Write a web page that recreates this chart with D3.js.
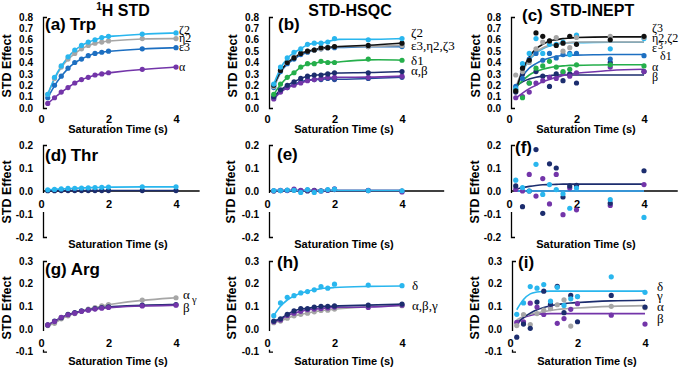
<!DOCTYPE html>
<html><head><meta charset="utf-8">
<script src="https://cdn.jsdelivr.net/npm/d3@7"></script>
<style>body{margin:0;background:#fff}</style>
</head><body><svg id="c" width="685" height="367"></svg>
<script>
// ---------- data ----------
const times = [0.2,0.4,0.6,0.8,1.0,1.2,1.4,1.6,1.8,2.0,3,4];
const xTicks = [0,2,4];
const yTicksRow1 = [0,0.1,0.2,0.3,0.4,0.5,0.6,0.7,0.8];
const yTicksRow2 = [-0.2,-0.1,0,0.1,0.2];
const yTicksRow3 = [-0.1,0,0.1,0.2,0.3];
const columnTitles = ["STD", "STD-HSQC", "STD-INEPT"];

// (a) Trp 1H STD
const trpSTD_alpha = [0.04,0.09,0.14,0.18,0.22,0.25,0.27,0.29,0.30,0.31,0.34,0.36];
const trpSTD_eps3  = [0.09,0.20,0.28,0.35,0.40,0.43,0.46,0.48,0.49,0.50,0.52,0.53];
const trpSTD_eta2  = [0.12,0.26,0.36,0.43,0.48,0.52,0.55,0.57,0.58,0.59,0.61,0.61];
const trpSTD_zeta2 = [0.12,0.27,0.37,0.45,0.51,0.55,0.58,0.60,0.62,0.63,0.65,0.66];
// (b) Trp STD-HSQC
const trpHSQC_beta2 = [0.09,0.15,0.18,0.21,0.23,0.25,0.25,0.25,0.26,0.25,0.26,0.27];
const trpHSQC_alpha = [0.08,0.14,0.18,0.20,0.22,0.24,0.25,0.26,0.27,0.27,0.27,0.28];
const trpHSQC_beta  = [0.10,0.16,0.20,0.23,0.26,0.28,0.29,0.29,0.30,0.31,0.31,0.32];
const trpHSQC_delta1= [0.12,0.21,0.27,0.31,0.36,0.39,0.39,0.41,0.40,0.40,0.43,0.42];
const trpHSQC_eps3  = [0.18,0.32,0.39,0.43,0.47,0.49,0.51,0.52,0.53,0.53,0.54,0.54];
const trpHSQC_eta2  = [0.19,0.33,0.40,0.45,0.48,0.50,0.51,0.52,0.53,0.54,0.54,0.55];
const trpHSQC_zeta3 = [0.20,0.33,0.40,0.44,0.48,0.50,0.51,0.53,0.53,0.54,0.55,0.57];
const trpHSQC_zeta2 = [0.21,0.36,0.44,0.49,0.52,0.56,0.57,0.57,0.58,0.61,0.60,0.61];
// (c) Trp STD-INEPT (points and fitted curves)
const trpINEPT_zeta3 = [0.15,0.35,0.42,0.66,0.63,0.59,0.55,0.57,0.63,0.56,0.60,0.63];
const trpINEPT_eta2  = [0.29,0.32,0.40,0.52,0.58,0.59,0.62,0.50,0.53,0.62,0.63,0.62];
const trpINEPT_zeta2 = [0.17,0.39,0.48,0.61,0.48,0.56,0.56,0.58,0.47,0.64,0.52,0.61];
const trpINEPT_eps3  = [0.19,0.26,0.43,0.48,0.42,0.48,0.44,0.47,0.48,0.48,0.43,0.46];
const trpINEPT_delta1= [0.16,0.09,0.22,0.35,0.37,0.41,0.36,0.32,0.34,0.38,0.38,0.37];
const trpINEPT_alpha = [0.09,0.10,0.14,0.22,0.24,0.27,0.26,0.31,0.28,0.31,0.36,0.32];
const trpINEPT_beta  = [0.14,0.30,0.22,0.32,0.28,0.19,0.30,0.24,0.30,0.22,0.40,0.32];
const trpINEPTfit_zeta3 = [0.15,0.33,0.45,0.52,0.56,0.59,0.60,0.61,0.615,0.62,0.625,0.625];
const trpINEPTfit_eta2  = [0.18,0.33,0.43,0.49,0.53,0.55,0.565,0.57,0.575,0.58,0.58,0.58];
const trpINEPTfit_zeta2 = [0.17,0.32,0.42,0.48,0.52,0.545,0.56,0.57,0.575,0.575,0.578,0.578];
const trpINEPTfit_eps3  = [0.19,0.28,0.35,0.39,0.42,0.44,0.455,0.46,0.465,0.465,0.47,0.47];
const trpINEPTfit_delta1= [0.18,0.24,0.29,0.32,0.34,0.355,0.365,0.37,0.375,0.375,0.38,0.38];
const trpINEPTfit_alpha = [0.085,0.13,0.17,0.20,0.23,0.25,0.27,0.285,0.30,0.305,0.33,0.34];
const trpINEPTfit_beta  = [0.19,0.23,0.255,0.27,0.28,0.285,0.29,0.29,0.29,0.29,0.29,0.29];
// (d) Thr 1H STD
const thrSTD_navy  = [0.001,0.001,0.002,0.002,0.002,0.002,0.002,0.002,0.002,0.002,0.002,0.002];
const thrSTD_light = [0.005,0.007,0.009,0.011,0.012,0.013,0.014,0.015,0.016,0.017,0.018,0.018];
// (e) Thr STD-HSQC
const thrHSQC_navy   = [0.000,0.002,0.003,0.004,0.002,0.000,0.003,0.001,0.003,0.006,0.002,0.000];
const thrHSQC_purple = [0.001,0.003,0.002,0.008,0.003,0.004,0.002,0.000,0.004,0.009,0.003,-0.004];
const thrHSQC_light  = [0.002,0.002,0.004,0.003,-0.006,0.006,-0.006,0.000,0.006,0.008,0.002,0.001];
const thrHSQCfit     = [0.002,0.002,0.002,0.002,0.002,0.002,0.002,0.002,0.002,0.002,0.002,0.002];
// (f) Thr STD-INEPT
const thrINEPT_navy   = [0.022,-0.068,0.0,0.18,-0.097,0.118,0.10,-0.026,0.022,0.025,-0.053,0.088];
const thrINEPT_light  = [0.047,0.015,0.0,0.116,-0.015,0.028,0.006,-0.012,-0.075,0.013,-0.037,-0.115];
const thrINEPT_purple = [0.007,0.0,0.072,-0.022,0.054,-0.056,0.072,-0.103,0.013,-0.082,-0.063,0.028];
const thrINEPTfit_navy  = [0.008,0.015,0.020,0.024,0.027,0.028,0.029,0.030,0.030,0.030,0.030,0.030];
const thrINEPTfit_light = [0.0,0.0,0.0,0.0,0.0,0.0,0.0,0.0,0.0,0.0,0.0,0.0];
// (g) Arg 1H STD
const argSTD_alpha = [0.015,0.025,0.045,0.058,0.068,0.078,0.088,0.095,0.102,0.108,0.128,0.138];
const argSTD_gamma = [0.018,0.035,0.050,0.065,0.072,0.080,0.085,0.090,0.095,0.098,0.105,0.108];
const argSTD_beta  = [0.018,0.033,0.052,0.063,0.070,0.078,0.083,0.088,0.092,0.095,0.102,0.105];
// (h) Arg STD-HSQC
const argHSQC_gray   = [0.028,0.035,0.048,0.058,0.065,0.070,0.076,0.082,0.083,0.088,0.100,0.103];
const argHSQC_purple = [0.032,0.040,0.060,0.070,0.078,0.085,0.088,0.090,0.093,0.097,0.095,0.105];
const argHSQC_navy   = [0.035,0.045,0.065,0.080,0.090,0.090,0.097,0.100,0.100,0.102,0.105,0.110];
const argHSQC_delta  = [0.059,0.115,0.140,0.147,0.159,0.165,0.173,0.187,0.180,0.198,0.194,0.191];
const argHSQCfit_delta = [0.059,0.100,0.128,0.146,0.158,0.167,0.173,0.178,0.181,0.183,0.188,0.190];
// (i) Arg STD-INEPT
const argINEPT_delta = [0.065,0.115,0.187,0.180,0.196,0.123,0.184,0.104,0.133,0.143,0.230,0.162];
const argINEPT_gamma = [-0.036,0.022,0.003,0.119,0.167,0.109,0.188,0.072,0.148,0.032,0.148,0.097];
const argINEPT_alpha = [0.015,0.064,0.020,0.068,0.083,0.090,0.107,0.129,0.013,0.143,0.100,0.094];
const argINEPT_beta  = [0.029,0.032,0.114,0.097,0.064,0.094,0.025,0.046,0.087,0.112,0.061,0.022];
const argINEPTfit_delta = [0.085,0.130,0.155,0.163,0.166,0.167,0.167,0.167,0.167,0.167,0.167,0.167];
const argINEPTfit_gamma = [0.020,0.050,0.070,0.085,0.095,0.103,0.108,0.112,0.115,0.117,0.124,0.127];
const argINEPTfit_alpha = [0.040,0.055,0.065,0.072,0.077,0.082,0.086,0.089,0.091,0.093,0.100,0.103];
const argINEPTfit_beta  = [0.030,0.050,0.060,0.065,0.067,0.068,0.068,0.068,0.068,0.068,0.068,0.068];

// ---------- styles ----------
const C = {light:"#29B6EE", gray:"#A6A6A6", blue:"#1D6FC1", purple:"#7335A9",
           navy:"#1C2D6E", navy2:"#2A4B9B", black:"#111111", green:"#25AF4B"};
const SANS = "Liberation Sans, Arial, sans-serif";
const SERIF = "Liberation Serif, Times New Roman, serif";

const rows = [
  {dom:[0,0.8], rng:[108,17], ticks:yTicksRow1, xPad:7.4, xTitleY:133, ylabY:66, gap:false},
  {dom:[-0.2,0.2], rng:[237,145], ticks:yTicksRow2, xPad:8.9, xTitleY:248, ylabY:192, gap:true},
  {dom:[-0.1,0.3], rng:[351.7,261], ticks:yTicksRow3, xPad:9.9, xTitleY:365, ylabY:308, gap:true}
];

const panels = [
  {row:0, x0:41, ylabX:11, tag:"(a)", tag2:"Trp", tagX:45, tagY:30, lfs:12,
   series:[{v:trpSTD_alpha,c:C.purple},{v:trpSTD_eps3,c:C.blue},{v:trpSTD_eta2,c:C.gray},{v:trpSTD_zeta2,c:C.light}],
   labels:[["ζ2",179,34],["η2",179,42],["ε3",179,50.5],["α",179,71]]},
  {row:0, x0:267, ylabX:237, tag:"(b)", tagX:278, tagY:30, lfs:13,
   series:[{v:trpHSQC_beta2,c:C.navy2},{v:trpHSQC_alpha,c:C.purple},{v:trpHSQC_beta,c:C.navy},{v:trpHSQC_delta1,c:C.green},
           {v:trpHSQC_eps3,c:C.blue},{v:trpHSQC_eta2,c:C.gray},{v:trpHSQC_zeta3,c:C.black},{v:trpHSQC_zeta2,c:C.light}],
   labels:[["ζ2",411,37],["ε3,η2,ζ3",411,50],["δ1",411,65],["α,β",411,75]]},
  {row:0, x0:509, ylabX:480, tag:"(c)", tagX:522, tagY:21, lfs:12,
   series:[{v:trpINEPT_beta,f:trpINEPTfit_beta,c:C.navy},{v:trpINEPT_alpha,f:trpINEPTfit_alpha,c:C.purple},
           {v:trpINEPT_delta1,f:trpINEPTfit_delta1,c:C.green},{v:trpINEPT_eps3,f:trpINEPTfit_eps3,c:C.blue},
           {v:trpINEPT_zeta2,f:trpINEPTfit_zeta2,c:C.light},{v:trpINEPT_eta2,f:trpINEPTfit_eta2,c:C.gray},
           {v:trpINEPT_zeta3,f:trpINEPTfit_zeta3,c:C.black}],
   labels:[["ζ3",652,32],["η2,ζ2",652,42],["ε",652,52],["δ1",660,59.5],["α",652,71],["β",652,81]], sup3:[658,49]},
  {row:1, x0:41, ylabX:11, tag:"(d)", tag2:"Thr", tagX:45, tagY:161, xLineEnd:4.7, lfs:13,
   series:[{v:thrSTD_navy,c:C.navy},{v:thrSTD_light,c:C.light}], labels:[]},
  {row:1, x0:267, ylabX:235, tag:"(e)", tagX:277, tagY:160, xLineEnd:5.25, lfs:13,
   series:[{v:thrHSQC_navy,f:thrHSQCfit,c:C.navy},{v:thrHSQC_purple,f:thrHSQCfit,c:C.purple},{v:thrHSQC_light,f:thrHSQCfit,c:C.light}], labels:[]},
  {row:1, x0:509, ylabX:479, tag:"(f)", tagX:515, tagY:153, xLineEnd:5.0, lfs:13,
   series:[{v:thrINEPT_purple,f:thrINEPTfit_light,c:C.purple},{v:thrINEPT_navy,f:thrINEPTfit_navy,c:C.navy},{v:thrINEPT_light,f:thrINEPTfit_light,c:C.light}], labels:[]},
  {row:2, x0:41, ylabX:11, tag:"(g)", tag2:"Arg", tagX:45, tagY:275, lfs:13,
   series:[{v:argSTD_alpha,c:C.gray},{v:argSTD_gamma,c:C.navy},{v:argSTD_beta,c:C.purple}],
   labels:[["α",183,299],["β",183,312]], gammaSmall:[192,303]},
  {row:2, x0:267, ylabX:236, tag:"(h)", tagX:277, tagY:268, lfs:13,
   series:[{v:argHSQC_gray,c:C.gray},{v:argHSQC_purple,c:C.purple},{v:argHSQC_navy,c:C.navy},{v:argHSQC_delta,f:argHSQCfit_delta,c:C.light}],
   labels:[["δ",412,290],["α,β,γ",412,310]]},
  {row:2, x0:510, ylabX:479, tag:"(i)", tagX:518, tagY:268, lfs:13,
   series:[{v:argINEPT_beta,f:argINEPTfit_beta,c:C.purple},{v:argINEPT_alpha,f:argINEPTfit_alpha,c:C.gray},
           {v:argINEPT_gamma,f:argINEPTfit_gamma,c:C.navy},{v:argINEPT_delta,f:argINEPTfit_delta,c:C.light}],
   labels:[["δ",657,291],["γ",657,300],["α",657,311],["β",657,323]]}
];

const svg = d3.select("#c");
svg.append("rect").attr("width",685).attr("height",367).attr("fill","#fff");

// column titles
const titleXs = [123, 350, 592];
titleXs.forEach((tx,i) => {
  const t = svg.append("text").attr("x",tx).attr("y",16).attr("text-anchor","middle")
    .attr("font-family",SANS).attr("font-weight","bold").attr("font-size",16).attr("fill","#000");
  if (i===0) {
    t.append("tspan").attr("font-size",10).attr("dy",-6).text("1");
    t.append("tspan").attr("dy",6).text("H " + columnTitles[0]);
  } else t.text(columnTitles[i]);
});

panels.forEach(p => {
  const r = rows[p.row];
  const x = d3.scaleLinear().domain([0,4]).range([p.x0, p.x0+135]);
  const y = d3.scaleLinear().domain(r.dom).range(r.rng);
  const g = svg.append("g");

  // x axis line for Thr row
  if (p.xLineEnd) {
    g.append("line").attr("x1",x(0)+2).attr("x2",x(p.xLineEnd)).attr("y1",y(0)).attr("y2",y(0))
      .attr("stroke","#000").attr("stroke-width",1.3);
  }
  // y axis
  const ya = g.append("g").attr("transform",`translate(${x(0)+2},0)`)
    .call(d3.axisLeft(y).tickValues(r.ticks).tickFormat(d => d.toFixed(1)).tickSizeInner(0).tickSizeOuter(-4).tickPadding(10));
  ya.select(".domain").attr("stroke","#000").attr("stroke-width",1.3);
  ya.selectAll("text").attr("font-family",SANS).attr("font-weight","bold").attr("font-size",10).attr("fill","#000");
  if (r.gap) {
    g.append("rect").attr("x",x(0)-1).attr("width",8).attr("y",y(0)+2).attr("height",y(-0.1)-y(0)-4).attr("fill","#fff");
  }
  // x tick labels
  const xa = g.append("g").attr("transform",`translate(0,${y(0)})`)
    .call(d3.axisBottom(x).tickValues(xTicks).tickFormat(d3.format("d")).tickSize(0).tickPadding(r.xPad));
  xa.select(".domain").remove();
  xa.selectAll("text").attr("font-family",SANS).attr("font-weight","bold").attr("font-size",11).attr("fill","#000");

  // axis titles
  g.append("text").attr("x",x(0)+77).attr("y",r.xTitleY).attr("text-anchor","middle")
    .attr("font-family",SANS).attr("font-weight","bold").attr("font-size",11).text("Saturation Time (s)");
  g.append("text").attr("transform",`translate(${p.ylabX},${r.ylabY}) rotate(-90)`).attr("text-anchor","middle")
    .attr("font-family",SANS).attr("font-weight","bold").attr("font-size",12.5).text("STD Effect");

  // panel tag
  const tg = g.append("text").attr("x",p.tagX).attr("y",p.tagY).attr("font-family",SANS).attr("font-weight","bold").attr("font-size",17);
  tg.append("tspan").text(p.tag);
  if (p.tag2) tg.append("tspan").attr("dx",4).text(p.tag2);

  // lines
  p.series.forEach(s => {
    const data = (s.f || s.v).map((v,i) => [times[i], v]);
    g.append("path").datum(data)
      .attr("d", d3.line().x(d => x(d[0])).y(d => y(d[1])).curve(s.f ? d3.curveMonotoneX : d3.curveBasis))
      .attr("fill","none").attr("stroke",s.c).attr("stroke-width",1.6);
  });
  // points
  p.series.forEach(s => {
    g.append("g").selectAll("circle").data(s.v.map((v,i)=>[times[i],v])).join("circle")
      .attr("cx",d => x(d[0])).attr("cy",d => y(d[1])).attr("r",2.6).attr("fill",s.c);
  });

  // series labels
  p.labels.forEach(l => {
    g.append("text").attr("x",l[1]).attr("y",l[2]).attr("font-family",SERIF).attr("font-size",p.lfs).attr("fill","#000").text(l[0]);
  });
  if (p.sup3) g.append("text").attr("x",p.sup3[0]).attr("y",p.sup3[1]).attr("font-family",SERIF).attr("font-size",10).text("3");
  if (p.gammaSmall) g.append("text").attr("x",p.gammaSmall[0]).attr("y",p.gammaSmall[1]).attr("font-family",SERIF).attr("font-size",10.5).text("γ");
});
</script>
</body></html>
